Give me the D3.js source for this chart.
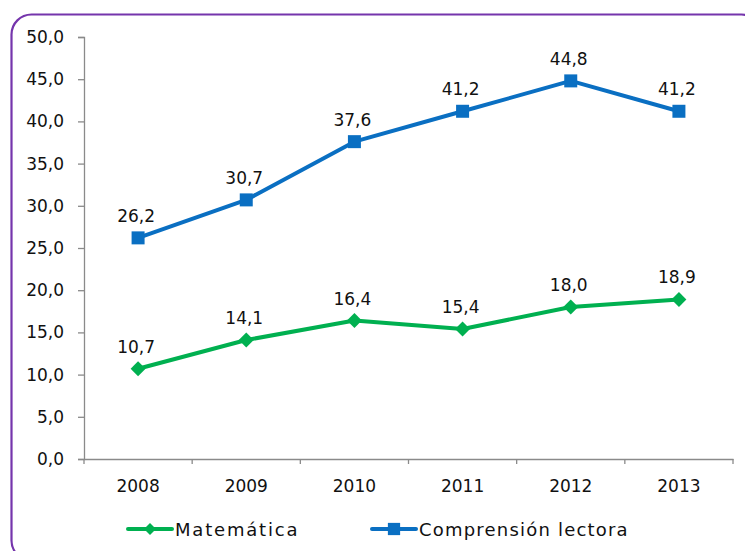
<!DOCTYPE html>
<html lang="es">
<head>
<meta charset="utf-8">
<title>Matemática y Comprensión lectora 2008-2013</title>
<script src="https://cdn.jsdelivr.net/npm/d3@7"></script>
<style>
  body { margin: 0; background: #fff; }
  svg text { font-family: "DejaVu Sans", sans-serif; fill: #111; }
</style>
</head>
<body>
<script>
// data
var years = ["2008", "2009", "2010", "2011", "2012", "2013"];
var matematica = [10.7, 14.1, 16.4, 15.4, 18.0, 18.9];
var comprension = [26.2, 30.7, 37.6, 41.2, 44.8, 41.2];
var yTicks = [0, 5, 10, 15, 20, 25, 30, 35, 40, 45, 50];
var seriesNames = ["Matemática", "Comprensión lectora"];

var W = 745, H = 551;
var plot = {left: 84, right: 733, top: 37, bottom: 459};

var svg = d3.select("body").append("svg")
  .attr("width", W).attr("height", H);

// purple frame
svg.append("rect")
  .attr("x", 11.5).attr("y", 14.5)
  .attr("width", 750).attr("height", 546)
  .attr("rx", 20).attr("ry", 20)
  .attr("fill", "none")
  .attr("stroke", "#7535ac")
  .attr("stroke-width", 2.2);

var x = d3.scaleBand().domain(years).range([plot.left, plot.right]).padding(0);
var y = d3.scaleLinear().domain([0, 50]).range([plot.bottom, plot.top]);
var cx = function(d) { return x(d) + x.bandwidth() / 2; };
var fmt = function(v) { return v.toFixed(1).replace(".", ","); };

var axisCol = "#8a8a8a";

// y axis
var gy = svg.append("g")
  .attr("transform", "translate(" + plot.left + ",0)")
  .call(d3.axisLeft(y).tickValues(yTicks).tickSize(6).tickPadding(14).tickFormat(fmt));
gy.select(".domain").attr("stroke", axisCol).attr("stroke-width", 1.3);
gy.selectAll(".tick line").attr("stroke", axisCol).attr("stroke-width", 1.3);
gy.selectAll(".tick text").style("font-size", "17px").attr("fill", "#111");

// x axis: labels centred, ticks at category boundaries
var gx = svg.append("g")
  .attr("transform", "translate(0," + plot.bottom + ")")
  .call(d3.axisBottom(x).tickSize(0).tickPadding(21));
gx.select(".domain").attr("stroke", axisCol).attr("stroke-width", 1.3);
gx.selectAll(".tick text").style("font-size", "17px").attr("fill", "#111");

var bounds = years.map(function(d) { return x(d); }).concat([plot.right]);
gx.selectAll("line.bnd").data(bounds).enter().append("line")
  .attr("class", "bnd")
  .attr("x1", function(d) { return d; }).attr("x2", function(d) { return d; })
  .attr("y1", 0).attr("y2", 5)
  .attr("stroke", axisCol).attr("stroke-width", 1.3);

var green = "#00b050", blue = "#0a6fc2";

var line = d3.line()
  .x(function(d, i) { return cx(years[i]); })
  .y(function(d) { return y(d); });

// diamond = square turned 45 degrees
function marker(kind, size) {
  return d3.symbol().type(d3.symbolSquare).size(size)();
}

function drawSeries(vals, col, kind) {
  svg.append("path").datum(vals)
    .attr("d", line)
    .attr("fill", "none")
    .attr("stroke", col)
    .attr("stroke-width", 4)
    .attr("stroke-linejoin", "round");
  svg.selectAll(null).data(vals).enter().append("path")
    .attr("transform", function(d, i) {
      return "translate(" + cx(years[i]) + "," + y(d) + ")" + (kind === "diamond" ? " rotate(45)" : "");
    })
    .attr("d", marker(kind, kind === "diamond" ? 112 : 169))
    .attr("fill", col);
  svg.selectAll(null).data(vals).enter().append("text")
    .attr("x", function(d, i) { return cx(years[i]) - 2; })
    .attr("y", function(d) { return y(d) - 16; })
    .attr("text-anchor", "middle")
    .style("font-size", "17px")
    .text(fmt);
}

drawSeries(matematica, green, "diamond");
drawSeries(comprension, blue, "square");

// legend
var legend = svg.append("g");
var legItems = [
  {name: seriesNames[0], col: green, kind: "diamond", x0: 128},
  {name: seriesNames[1], col: blue, kind: "square", x0: 372}
];
legItems.forEach(function(it) {
  legend.append("line")
    .attr("x1", it.x0).attr("x2", it.x0 + 44)
    .attr("y1", 529).attr("y2", 529)
    .attr("stroke", it.col).attr("stroke-width", 4).attr("stroke-linecap", "round");
  legend.append("path")
    .attr("transform", "translate(" + (it.x0 + 22) + ",529)" + (it.kind === "diamond" ? " rotate(45)" : ""))
    .attr("d", marker(it.kind, it.kind === "diamond" ? 72 : 150))
    .attr("fill", it.col);
  legend.append("text")
    .attr("x", it.x0 + 47).attr("y", 535.5)
    .style("font-size", "18px")
    .style("letter-spacing", it.kind === "diamond" ? "1.8px" : "1.2px")
    .text(it.name);
});
</script>
</body>
</html>
